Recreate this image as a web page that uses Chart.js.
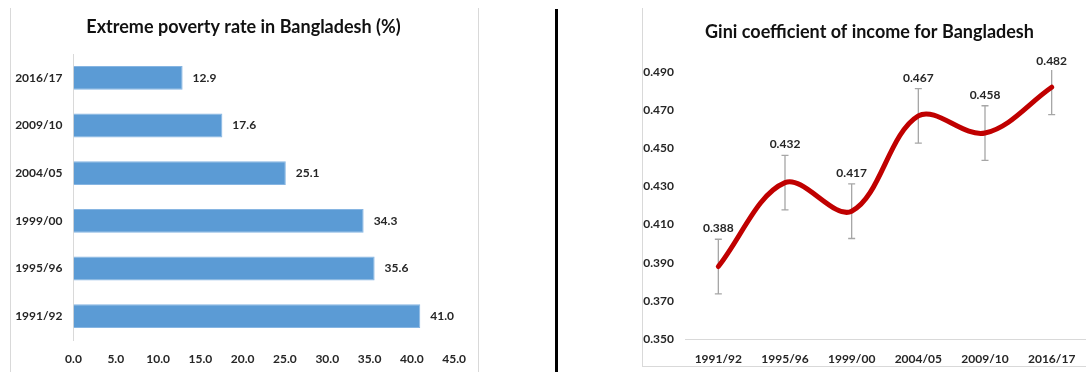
<!DOCTYPE html>
<html>
<head>
<meta charset="utf-8">
<script src="https://cdn.jsdelivr.net/npm/chart.js@4.4.1/dist/chart.umd.min.js"></script>
<style>
  body { margin: 0; width: 1086px; height: 372px; overflow: hidden; position: relative; background: #fff; }
  .abs { position: absolute; }
  .box { position: absolute; }
</style>
</head>
<body>
<div class="abs" style="left:10px;top:8px;width:467px;height:400px;border-left:1px solid #D9D9D9;border-right:1px solid #D9D9D9"></div>
<div class="abs" style="left:555px;top:9px;width:3px;height:380px;background:#000"></div>
<div class="abs" style="left:642px;top:8px;width:460px;height:358px;border-left:1px solid #D9D9D9;border-bottom:1px solid #D9D9D9"></div>
<div class="box" style="left:10px;top:0;width:468px;height:372px"><canvas id="chartPoverty"></canvas></div>
<div class="box" style="left:643px;top:0;width:453px;height:367px"><canvas id="chartGini"></canvas></div>
<script>
const FONT = "Lato, 'Open Sans', sans-serif";
const TEXT = "#262626";

// left chart
const povertyTitle = "Extreme poverty rate in Bangladesh (%)";
const povertyYears = ["1991/92", "1995/96", "1999/00", "2004/05", "2009/10", "2016/17"];
const povertyRate = [41.0, 35.6, 34.3, 25.1, 17.6, 12.9];
const povertyTicks = [0, 5, 10, 15, 20, 25, 30, 35, 40, 45];

// right chart
const giniTitle = "Gini coefficient of income for Bangladesh";
const giniYears = ["1991/92", "1995/96", "1999/00", "2004/05", "2009/10", "2016/17"];
const giniValues = [0.388, 0.432, 0.417, 0.467, 0.458, 0.482];
const giniErr = [0.0143, 0.0143, 0.0143, 0.0143, 0.0143, 0.0143];
const giniTicks = [0.35, 0.37, 0.39, 0.41, 0.43, 0.45, 0.47, 0.49];

Chart.defaults.font.family = FONT;
Chart.defaults.color = TEXT;

// title drawn by hand so it can sit centred over the frame, not the plot
function titlePlugin(text, cx, cy) {
  return {
    id: "frameTitle",
    afterDraw(chart) {
      const ctx = chart.ctx;
      ctx.save();
      ctx.font = `bold 18px ${FONT}`;
      ctx.fillStyle = "#111";
      ctx.textAlign = "center";
      ctx.textBaseline = "middle";
      ctx.fillText(text, cx, cy);
      ctx.restore();
    }
  };
}

const barLabels = {
  id: "barLabels",
  afterDatasetsDraw(chart) {
    const ctx = chart.ctx;
    ctx.save();
    ctx.font = `bold 12px ${FONT}`;
    ctx.fillStyle = TEXT;
    ctx.textAlign = "left";
    ctx.textBaseline = "middle";
    chart.getDatasetMeta(0).data.forEach((bar, i) => {
      ctx.fillText(povertyRate[i].toFixed(1), bar.x + 10, bar.y);
    });
    ctx.restore();
  }
};

// error bars under the line, labels on top
const errorBars = {
  id: "errorBars",
  beforeDatasetsDraw(chart) {
    const ctx = chart.ctx, y = chart.scales.y, a = chart.chartArea;
    ctx.save();
    ctx.beginPath();
    ctx.rect(a.left, a.top - 2, a.right - a.left, a.bottom - a.top + 2);
    ctx.clip();
    ctx.strokeStyle = "#A6A6A6";
    ctx.lineWidth = 1.3;
    chart.getDatasetMeta(0).data.forEach((pt, i) => {
      const hi = y.getPixelForValue(giniValues[i] + giniErr[i]);
      const lo = y.getPixelForValue(giniValues[i] - giniErr[i]);
      ctx.beginPath();
      ctx.moveTo(pt.x, hi); ctx.lineTo(pt.x, lo);
      ctx.moveTo(pt.x - 3.5, hi); ctx.lineTo(pt.x + 3.5, hi);
      ctx.moveTo(pt.x - 3.5, lo); ctx.lineTo(pt.x + 3.5, lo);
      ctx.stroke();
    });
    ctx.restore();
  },
  afterDatasetsDraw(chart) {
    const ctx = chart.ctx, a = chart.chartArea;
    ctx.save();
    ctx.font = `bold 12px ${FONT}`;
    ctx.fillStyle = TEXT;
    ctx.textAlign = "center";
    ctx.textBaseline = "middle";
    chart.getDatasetMeta(0).data.forEach((pt, i) => {
      const ly = Math.max(pt.y - 38, a.top - 11);
      ctx.fillText(giniValues[i].toFixed(3), pt.x, ly);
    });
    ctx.restore();
  }
};

new Chart(document.getElementById("chartPoverty"), {
  type: "bar",
  data: {
    labels: povertyYears,
    datasets: [{
      data: povertyRate,
      backgroundColor: "#5B9BD5",
      borderColor: "#86B5E2",
      borderWidth: 1,
      barPercentage: 0.5,
      categoryPercentage: 1
    }]
  },
  options: {
    indexAxis: "y",
    responsive: true,
    maintainAspectRatio: false,
    animation: false,
    layout: { padding: { top: 54, right: 22, bottom: 0, left: 0 } },
    plugins: {
      legend: { display: false },
      tooltip: { enabled: false },
      title: { display: false }
    },
    scales: {
      x: {
        min: 0, max: 45,
        afterBuildTicks: s => { s.ticks = povertyTicks.map(v => ({ value: v })); },
        afterFit: s => { s.height = 32; },
        grid: { display: false, drawTicks: false },
        border: { display: false },
        ticks: { padding: 12, font: { size: 12, weight: "bold" }, color: TEXT, callback: v => Number(v).toFixed(1) }
      },
      y: {
        reverse: true,
        afterFit: s => { s.width = 63.5; },
        grid: { display: false, drawTicks: false },
        border: { display: true, color: "#D9D9D9", width: 1 },
        ticks: { padding: 11, font: { size: 12, weight: "bold" }, color: TEXT }
      }
    }
  },
  plugins: [barLabels, titlePlugin(povertyTitle, 233.5, 27)]
});

new Chart(document.getElementById("chartGini"), {
  type: "line",
  data: {
    labels: giniYears,
    datasets: [{
      data: giniValues,
      borderColor: "#C00000",
      borderWidth: 5,
      borderCapStyle: "round",
      tension: 0.35,
      pointRadius: 0,
      fill: false
    }]
  },
  options: {
    responsive: true,
    maintainAspectRatio: false,
    animation: false,
    layout: { padding: { top: 72, right: 11, bottom: 0, left: 0 } },
    plugins: {
      legend: { display: false },
      tooltip: { enabled: false },
      title: { display: false }
    },
    scales: {
      x: {
        offset: true,
        afterFit: s => { s.height = 28; },
        grid: { display: false, drawTicks: false },
        border: { display: true, color: "#D9D9D9", width: 1 },
        ticks: { padding: 13, font: { size: 12, weight: "bold" }, color: TEXT }
      },
      y: {
        min: 0.35, max: 0.49,
        afterBuildTicks: s => { s.ticks = giniTicks.map(v => ({ value: v })); },
        afterFit: s => { s.width = 42; },
        grid: { display: false, drawTicks: false },
        border: { display: false },
        ticks: { padding: 11, font: { size: 12, weight: "bold" }, color: TEXT, callback: v => Number(v).toFixed(3) }
      }
    }
  },
  plugins: [errorBars, titlePlugin(giniTitle, 226.5, 32)]
});
</script>
</body>
</html>
